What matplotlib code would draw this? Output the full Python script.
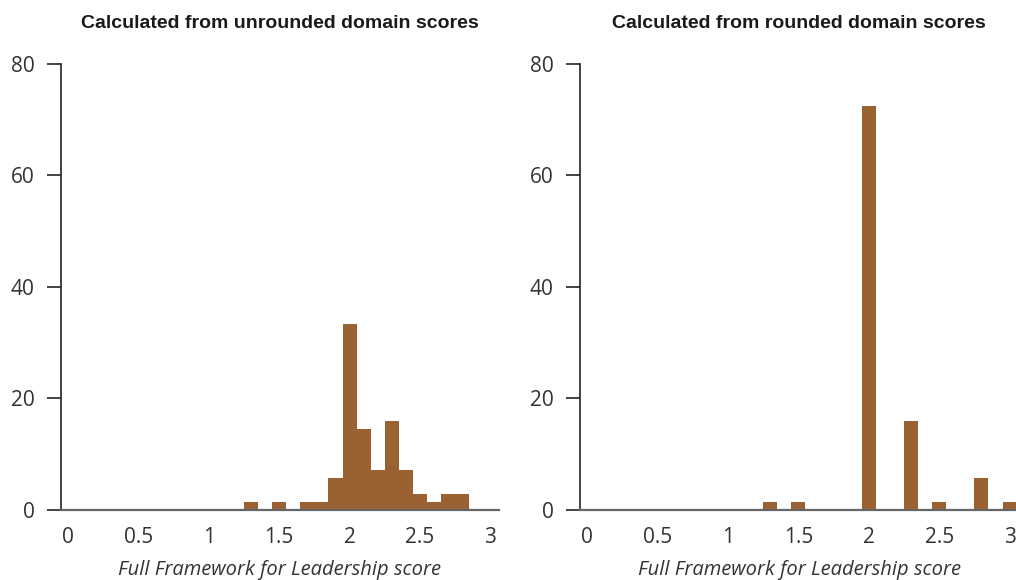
import matplotlib.pyplot as plt

plt.rcParams["font.family"] = ["Liberation Sans", "DejaVu Sans"]

# bin centres (width 0.1) and share of respondents (%)
unrounded_bins = [1.3, 1.4, 1.5, 1.6, 1.7, 1.8, 1.9, 2.0, 2.1, 2.2, 2.3, 2.4, 2.5, 2.6, 2.7, 2.8]
unrounded_pct = [1.45, 0, 1.45, 0, 1.45, 1.45, 5.8, 33.3, 14.5, 7.25, 15.9, 7.25, 2.9, 1.45, 2.9, 2.9]

rounded_bins = [1.3, 1.5, 2.0, 2.3, 2.5, 2.8, 3.0]
rounded_pct = [1.45, 1.45, 72.5, 15.9, 1.45, 5.8, 1.45]

x_ticks = [0, 0.5, 1, 1.5, 2, 2.5, 3]
x_labels = ["0", "0.5", "1", "1.5", "2", "2.5", "3"]
y_ticks = [0, 20, 40, 60, 80]

titles = ["Calculated from unrounded domain scores", "Calculated from rounded domain scores"]
BAR = "#9a6133"
TXT = ["Open Sans", "DejaVu Sans"]

fig = plt.figure(figsize=(10.16, 5.8), dpi=100)
ax1 = fig.add_axes([0.060, 0.1207, 0.431, 0.769])
ax2 = fig.add_axes([0.571, 0.1207, 0.431, 0.769])

for ax, bins, pct, title in [(ax1, unrounded_bins, unrounded_pct, titles[0]),
                             (ax2, rounded_bins, rounded_pct, titles[1])]:
    ax.bar(bins, pct, width=0.1, color=BAR, linewidth=0, zorder=2)
    ax.set_xlim(-0.05, 3.06)
    ax.set_ylim(0, 80)
    ax.spines[["top", "right"]].set_visible(False)
    ax.spines["left"].set_color("#222222")
    ax.spines["left"].set_linewidth(1.2)
    ax.spines["bottom"].set_color("#666666")
    ax.spines["bottom"].set_linewidth(1.6)
    ax.spines["bottom"].set_zorder(3)
    ax.set_xticks(x_ticks, x_labels)
    ax.set_yticks(y_ticks)
    ax.tick_params(axis="x", length=0, pad=12, labelsize=15, labelcolor="#333333")
    ax.tick_params(axis="y", length=10, width=1.2, color="#222222", pad=9,
                   labelsize=15, labelcolor="#333333")
    for lab in ax.get_xticklabels() + ax.get_yticklabels():
        lab.set_family(TXT)
    ax.set_xlabel("Full Framework for Leadership score", fontsize=14.5, style="italic",
                  color="#333333", labelpad=9, family=TXT)
    ax.set_title(title, fontsize=14, fontweight="bold", color="#1a1a1a", pad=26)

fig.savefig("out.png", dpi=100, facecolor="white")
